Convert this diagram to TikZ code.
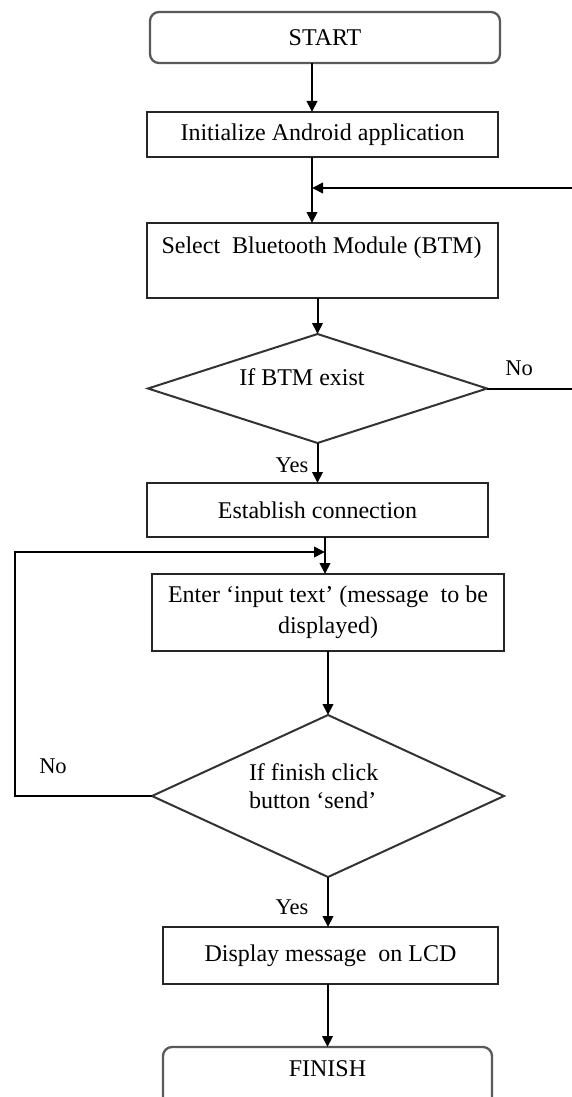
\documentclass[tikz,border=0pt]{standalone}
\usepackage{fontspec}
\setmainfont{Liberation Serif}
\usetikzlibrary{arrows.meta,shapes.geometric,calc}
\tikzset{
  base/.style={inner sep=0pt, outer sep=0pt, font=\fontsize{24}{31}\selectfont},
  procbox/.style={base, draw=black!85, line width=2.1pt, rectangle},
  termbox/.style={base, draw=black!65, line width=2.3pt, rectangle, rounded corners=9pt},
  decbox/.style={base, draw=black!80, line width=2pt, diamond},
  txt/.style={base, inner sep=0pt},
  lbl/.style={base, font=\fontsize{22.5}{26}\selectfont},
  arr/.style={draw=black, line width=2pt, -{Triangle[length=11pt,width=10.5pt]}}
}
\begin{document}
\begin{tikzpicture}[x=1pt,y=-1pt]
\useasboundingbox (0,0) rectangle (572,1097);
\fill[white] (0,0) rectangle (572,1097);

% boxes
\node[termbox, minimum width=350pt, minimum height=51pt] (start) at (325,37.5) {START};
\node[procbox, minimum width=351pt, minimum height=45pt] (init) at (322.5,134.5) {Initialize Android application};
\node[procbox, minimum width=351pt, minimum height=75pt] (sel) at (322.5,260.5) {};
\node[txt] (selt) at (321.5,248) {Select\ \ Bluetooth Module (BTM)};
\node[decbox, minimum width=339pt, minimum height=109pt] (d1) at (317.5,388.5) {};
\node[txt] (d1t) at (302,377) {If BTM exist};
\node[procbox, minimum width=341pt, minimum height=54pt] (est) at (317.5,510) {Establish connection};
\node[procbox, minimum width=352pt, minimum height=77pt, align=center] (enter) at (328,612.5) {Enter ‘input text’ (message\ \ to be\\ displayed)};
\node[decbox, minimum width=352pt, minimum height=162pt] (d2) at (328,796) {};
\node[txt, anchor=west, align=left, font=\fontsize{24}{28}\selectfont] (d2t) at (249,786) {If finish click\\button ‘send’};
\node[procbox, minimum width=335pt, minimum height=57pt] (disp) at (330.5,955.5) {Display message\ \ on LCD};
\node[termbox, minimum width=329pt, minimum height=62pt] (fin) at (327.5,1078) {};
\node[txt] (fint) at (327.5,1069) {FINISH};

% labels
\node[lbl] (no1) at (519,368) {No};
\node[lbl] (yes1) at (292,465) {Yes};
\node[lbl] (no2) at (53,766) {No};
\node[lbl] (yes2) at (292,907) {Yes};

% helper coordinates
\coordinate (rtop) at (578,188);
\coordinate (m1) at (312,188);
\coordinate (ltop) at (15,552);
\coordinate (m2) at (325,552);

% connectors
\draw[arr] ([xshift=-13pt]start.south) -- ([xshift=-10.5pt]init.north);
\draw[arr] ([xshift=-10.5pt]init.south) -- ([xshift=-10.5pt]sel.north);
\draw[arr] (sel.south -| d1.north) -- (d1.north);
\draw[arr] (d1.south) -- (d1.south |- est.north);
\draw[arr] ([xshift=7.5pt]est.south) -- ([xshift=-3pt]enter.north);
\draw[arr] (enter.south) -- (d2.north);
\draw[arr] (d2.south) -- (d2.south |- disp.north);
\draw[arr] (fin.north |- disp.south) -- (fin.north);
\draw[arr] (d1.east) -| (rtop) -- (m1);
\draw[arr] (d2.west) -| (ltop) -- (m2);
\end{tikzpicture}
\end{document}
